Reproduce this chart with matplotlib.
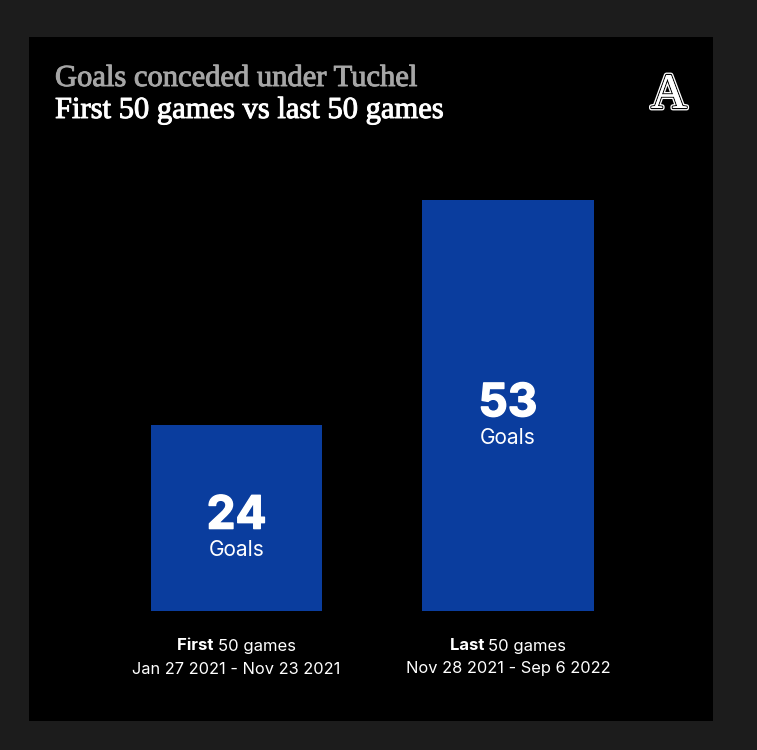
import matplotlib.pyplot as plt
import matplotlib.patheffects as pe
from matplotlib.patches import Rectangle

# data
periods = ["First", "Last"]
goals = [24, 53]
date_ranges = ["Jan 27 2021 - Nov 23 2021", "Nov 28 2021 - Sep 6 2022"]
title_top = "Goals conceded under Tuchel"
title_sub = "First 50 games vs last 50 games"

W, H = 757, 750
fig = plt.figure(figsize=(W / 100, H / 100), dpi=100)
fig.patch.set_facecolor("#1c1c1c")

# black card
fig.patches.append(Rectangle((29 / W, 1 - 721 / H), (713 - 29) / W, (721 - 37) / H,
                             transform=fig.transFigure, facecolor="black",
                             edgecolor="none", zorder=-10))

# bar axes (bottom at y=611px, 7.75 px per goal)
ax_left, ax_right = 100.75, 643.75
ax_bottom = 611
ax_h = 60 * 7.75
ax = fig.add_axes([ax_left / W, 1 - ax_bottom / H, (ax_right - ax_left) / W, ax_h / H])
ax.set_facecolor("none")
ax.set_zorder(1)
x = range(len(goals))
ax.bar(x, goals, width=0.63, color="#0a3d9e")
ax.set_xlim(-0.5, 1.5)
ax.set_ylim(0, 60)
ax.axis("off")

sans = ["Inter", "DejaVu Sans"]
bold_fx = [pe.withStroke(linewidth=1.0, foreground="white")]
for i, g in enumerate(goals):
    ax.annotate(str(g), (i, g / 2), xytext=(0, 1), textcoords="offset points",
                ha="center", va="center", color="white",
                fontsize=33, fontweight="bold", family=sans, path_effects=bold_fx)
    ax.annotate("Goals", (i, g / 2), xytext=(0, -23), textcoords="offset points",
                ha="center", va="center", color="white", fontsize=15, family=sans)

# labels under bars
renderer = fig.canvas.get_renderer()
fs = 12
for i, (p, d) in enumerate(zip(periods, date_ranges)):
    cx = (ax_left + (i + 0.5) * (ax_right - ax_left) / 2) / W
    t1 = fig.text(0, 1 - 646 / H, p + " ", ha="left", va="center", color="white",
                  fontsize=fs, fontweight="bold", family=sans)
    t2 = fig.text(0, 1 - 646 / H, "50 games", ha="left", va="center", color="white",
                  fontsize=fs, family=sans)
    w1 = t1.get_window_extent(renderer).width / W
    w2 = t2.get_window_extent(renderer).width / W
    start = cx - (w1 + w2) / 2
    t1.set_x(start)
    t2.set_x(start + w1)
    fig.text(cx, 1 - 669 / H, d, ha="center", va="center", color="white",
             fontsize=11.8, family=sans)

# title
serif = ["Liberation Serif", "DejaVu Serif"]
fig.text(55 / W, 1 - 86 / H, title_top, ha="left", va="baseline", color="#a6a6a6",
         fontsize=22, family=serif,
         path_effects=[pe.withStroke(linewidth=0.7, foreground="#a6a6a6")])
fig.text(55 / W, 1 - 118 / H, title_sub, ha="left", va="baseline", color="white",
         fontsize=22, family=serif,
         path_effects=[pe.withStroke(linewidth=0.7, foreground="white")])

# logo
fig.text(669 / W, 1 - 108 / H, "A", ha="center", va="baseline", color="white",
         fontsize=36, family=serif,
         path_effects=[pe.withStroke(linewidth=3.5, foreground="white"),
                       pe.withStroke(linewidth=1.6, foreground="black"),
                       pe.Normal()])

fig.savefig("out.png", dpi=100, facecolor=fig.get_facecolor())
